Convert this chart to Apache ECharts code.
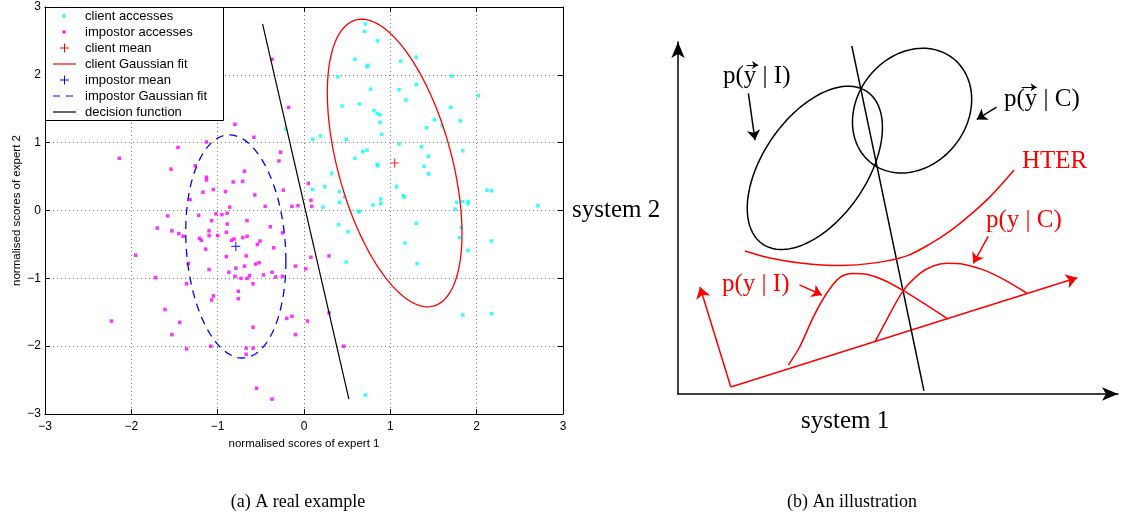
<!DOCTYPE html>
<html>
<head>
<meta charset="utf-8">
<script src="https://cdn.jsdelivr.net/npm/echarts@6/dist/echarts.min.js"></script>
<style>
  html, body { margin: 0; padding: 0; background: #fff; }
  #c { width: 1136px; height: 521px; }
</style>
</head>
<body>
<div id="c"></div>
<script>
// ---------- (a) real example: normalised scores [expert 1, expert 2] ----------
const clientScores = [
  [0.71,2.75],[0.70,2.64],[0.85,2.50],[0.59,2.23],[0.74,2.14],[0.73,2.12],[1.12,2.20],[1.30,2.26],
  [0.39,1.97],[1.71,1.98],[0.77,1.79],[1.10,1.78],[1.30,1.86],[1.18,1.63],[2.02,1.69],[0.44,1.54],
  [0.64,1.57],[0.81,1.47],[0.85,1.43],[0.88,1.41],[1.70,1.52],[0.88,1.30],[1.81,1.32],[1.51,1.34],
  [1.42,1.22],[1.60,1.25],[0.90,1.12],[0.10,1.05],[0.19,1.10],[0.49,1.05],[-0.21,1.20],[1.10,0.98],
  [1.36,0.94],[1.84,0.88],[0.59,0.77],[0.68,0.87],[0.73,0.89],[0.85,0.68],[0.85,0.66],[1.44,0.80],
  [1.39,0.65],[1.44,0.54],[0.32,0.55],[0.10,0.31],[0.24,0.35],[0.41,0.28],[1.07,0.35],[1.15,0.22],
  [1.16,0.20],[0.89,0.17],[2.12,0.30],[2.17,0.29],[1.77,0.12],[1.84,0.13],[1.90,0.13],[1.90,0.10],
  [2.71,0.07],[1.75,0.02],[0.22,0.05],[0.41,0.12],[0.63,-0.01],[0.64,-0.02],[0.80,0.08],[0.89,0.10],
  [0.40,-0.21],[0.51,-0.31],[0.49,-0.76],[1.30,-0.19],[1.17,-0.48],[1.31,-0.78],[1.82,-0.25],[1.80,-0.40],
  [1.90,-0.59],[2.17,-0.45],[1.84,-1.54],[2.17,-1.52],[0.71,-2.72],[0.47,0.20]
];
const impostorScores = [
  [-2.14,0.77],[-1.46,0.93],[-1.13,1.01],[-0.58,1.08],[-1.54,0.61],[-0.27,0.86],[-0.29,0.73],[-1.26,0.66],
  [-0.69,0.58],[-1.13,0.49],[-1.13,0.45],[-0.82,0.42],[-0.71,0.43],[-1.05,0.31],[-1.17,0.27],[-0.91,0.28],
  [-0.24,0.30],[-0.57,0.23],[-1.32,0.16],[-0.86,0.05],[-0.45,0.06],[-0.14,0.06],[-0.07,0.07],[-1.02,-0.05],
  [-0.95,-0.06],[-0.89,-0.04],[-1.58,-0.08],[-1.22,-0.07],[-1.07,-0.15],[-0.66,-0.15],[-0.89,-0.20],[-1.70,-0.26],
  [-0.39,-0.24],[-1.53,-0.30],[-1.10,-0.30],[-0.90,-0.32],[-1.45,-0.34],[-1.40,-0.38],[-1.10,-0.37],[-1.00,-0.37],
  [-1.21,-0.41],[-1.19,-0.44],[-0.81,-0.42],[-0.84,-0.44],[-0.71,-0.40],[-0.66,-0.38],[-0.51,-0.45],[-0.54,-0.50],
  [-0.25,-0.33],[-1.14,-0.57],[-0.35,-0.55],[-1.95,-0.66],[-0.90,-0.68],[-0.67,-0.67],[-1.34,-0.78],[-0.56,-0.79],
  [-0.52,-0.77],[-0.10,-0.82],[-1.10,-0.87],[-0.79,-0.85],[-0.69,-0.82],[-0.87,-0.91],[-0.37,-0.91],[-0.47,-0.95],
  [-0.80,-0.97],[-0.63,-0.96],[-0.73,-1.00],[-0.66,-1.00],[-0.33,-0.98],[-0.25,-0.97],[-1.72,-0.99],
  [-1.36,-1.08],[-0.59,-1.08],[-0.76,-1.19],[-1.05,-1.26],[-1.07,-1.32],[-0.76,-1.30],[-1.61,-1.46],[-2.23,-1.63],
  [-1.44,-1.65],[-1.53,-1.83],[-0.59,-1.72],[-0.20,-1.59],[-0.14,-1.56],[0.04,-1.63],[-0.10,-1.83],[-1.36,-2.04],
  [-1.08,-2.00],[-0.67,-2.03],[-0.59,-2.03],[-0.67,-2.12],[-0.55,-2.62],[-0.37,-2.78],
  [-0.37,2.23],[-0.18,1.52],[-0.80,1.27],[0.05,0.40],[0.08,0.15],[0.09,0.06],
  [0.02,-0.86],[0.08,-0.69],[0.29,-0.67],[0.29,-1.51],[0.46,-2.00]
];
const clientMean = [1.05, 0.70];
const impostorMean = [-0.79, -0.53];
// Gaussian fit contours: half extent along each expert axis and correlation
const clientFit = { sx: 0.78, sy: 2.12, rho: -0.49 };
const impostorFit = { sx: 0.58, sy: 1.645, rho: -0.13 };
const decisionFunction = [[-0.48, 2.75], [0.52, -2.78]];
const scoreTicks = [-3, 3, 1];   // min, max, step

const legendLabels = ['client accesses', 'impostor accesses', 'client mean', 'client Gaussian fit',
  'impostor mean', 'impostor Gaussian fit', 'decision function'];

// ---------- (b) illustration, in "system 1" / "system 2" units ----------
const classI = { c: [3.11, 5.14], a: 2.10, b: 1.18, angle: 55.5 };  // p(y|I) contour
const classC = { c: [5.32, 6.44], a: 1.51, b: 1.25, angle: 52 };    // p(y|C) contour
const illusDecision = [[3.95, 7.91], [5.59, 0.07]];
const hterCurve = [[1.52,3.25],[2.09,3.09],[2.77,2.98],[3.68,2.92],[4.48,2.98],[5.20,3.14],[5.73,3.41],
  [6.18,3.70],[6.64,4.07],[7.09,4.48],[7.64,5.09]];
const projI = [[2.51,0.66],[2.77,1.08],[3.08,1.76],[3.38,2.29],[3.68,2.65],[3.98,2.74],[4.29,2.72],[4.67,2.59],[5.12,2.35],[5.65,2.02],[6.14,1.70]];
const projC = [[4.48,1.19],[4.74,1.68],[5.12,2.35],[5.50,2.74],[5.80,2.91],[6.11,2.97],[6.48,2.95],[6.94,2.82],[7.39,2.61],[7.93,2.29]];
const projOrigin = [1.20, 0.16];
const projAxisEnd = [9.07, 2.64];
const projDensityEnd = [0.50, 2.43];
const blackPointers = [[[1.60,6.83],[1.75,5.77]], [[7.24,6.52],[6.79,6.24]]];
const vectorMarks = [[[1.56,7.48],[1.82,7.48]], [[7.81,6.97],[8.15,6.97]]];
const redPointers = [[[7.05,3.58],[6.71,2.97]], [[2.76,2.48],[3.27,2.25]]];

function fitContour(mean, fit, n) {
  const d = Math.acos(fit.rho), pts = [];
  for (let i = 0; i <= n; i++) {
    const t = 2 * Math.PI * i / n;
    pts.push([mean[0] + fit.sx * Math.cos(t), mean[1] + fit.sy * Math.cos(t + d)]);
  }
  return pts;
}
function tiltedContour(e, n) {
  const th = e.angle * Math.PI / 180, pts = [];
  for (let i = 0; i <= n; i++) {
    const t = 2 * Math.PI * i / n;
    const u = e.a * Math.cos(t), v = e.b * Math.sin(t);
    pts.push([e.c[0] + u * Math.cos(th) - v * Math.sin(th), e.c[1] + u * Math.sin(th) + v * Math.cos(th)]);
  }
  return pts;
}

const SANS = '"Liberation Sans", Arial, Helvetica, sans-serif';
const SERIF = '"Liberation Serif", "Times New Roman", serif';
const minus = v => String(v).replace('-', '\u2212');

const plusPath = 'path://M5,0L5,10M0,5L10,5';

// legend drawn as graphic elements, MATLAB style
const legendItems = [];
const lgX = 45, lgY = 7, rowH = 16;
legendItems.push({ type: 'rect', shape: { x: lgX + 0.5, y: lgY + 0.5, width: 178, height: 113 },
  style: { fill: '#fff', stroke: '#000', lineWidth: 1 }, z: 50 });
legendLabels.forEach((name, i) => {
  const cy = lgY + 9 + i * rowH;
  legendItems.push({ type: 'text', x: 85, y: cy, z: 51,
    style: { text: name, font: '13px ' + SANS, fill: '#000', verticalAlign: 'middle' } });
});
const mk = (i) => lgY + 9 + i * rowH;
legendItems.push({ type: 'rect', z: 51, shape: { x: 62.5, y: mk(0) - 1.5, width: 3, height: 3 }, style: { fill: '#00FFFF' } });
legendItems.push({ type: 'rect', z: 51, shape: { x: 62.5, y: mk(1) - 1.5, width: 3, height: 3 }, style: { fill: '#FF00FF' } });
legendItems.push({ type: 'polyline', z: 51, shape: { points: [[60, mk(2)], [69, mk(2)]] }, style: { stroke: '#FF0000', lineWidth: 1 } });
legendItems.push({ type: 'polyline', z: 51, shape: { points: [[64.5, mk(2) - 4.5], [64.5, mk(2) + 4.5]] }, style: { stroke: '#FF0000', lineWidth: 1 } });
legendItems.push({ type: 'polyline', z: 51, shape: { points: [[53, mk(3)], [76, mk(3)]] }, style: { stroke: '#FF0000', lineWidth: 1.2 } });
legendItems.push({ type: 'polyline', z: 51, shape: { points: [[60, mk(4)], [69, mk(4)]] }, style: { stroke: '#0000FF', lineWidth: 1 } });
legendItems.push({ type: 'polyline', z: 51, shape: { points: [[64.5, mk(4) - 4.5], [64.5, mk(4) + 4.5]] }, style: { stroke: '#0000FF', lineWidth: 1 } });
legendItems.push({ type: 'polyline', z: 51, shape: { points: [[53, mk(5)], [76, mk(5)]] }, style: { stroke: '#0000FF', lineWidth: 1.2, lineDash: [7, 6] } });
legendItems.push({ type: 'polyline', z: 51, shape: { points: [[53, mk(6)], [76, mk(6)]] }, style: { stroke: '#000', lineWidth: 1.2 } });

function txt(text, x, y, size, color, align) {
  return { type: 'text', x: x, y: y, z: 20,
    style: { text: text, font: size + 'px ' + SERIF, fill: color, verticalAlign: 'middle', align: align || 'left' } };
}
const illusTexts = [
  txt('system 2', 572, 210, 25, '#000'),
  txt('system 1', 801, 421, 25, '#000'),
  txt('p(y | I)', 723, 76, 25, '#000'),
  txt('p(y | C)', 1004, 99, 25, '#000'),
  txt('HTER', 1022, 161, 25, '#FF0000'),
  txt('p(y | C)', 986, 220, 25, '#FF0000'),
  txt('p(y | I)', 722, 284, 25, '#FF0000'),
  txt('(a) A real example', 298, 502, 18, '#000', 'center'),
  txt('(b) An illustration', 852, 502, 18, '#000', 'center')
];

const boxAxis = {
  axisLine: { show: true, onZero: false, lineStyle: { color: '#000', width: 1 } },
  axisTick: { show: true, inside: true, length: 5, lineStyle: { color: '#000' } }
};
const gridLine = { show: true, lineStyle: { color: '#7a7a7a', width: 1, type: [1, 3] } };

const hiddenAxis = {
  axisTick: { show: false }, axisLabel: { show: false }, splitLine: { show: false }
};
const arrowAxisLine = { show: true, onZero: false, symbol: ['none', 'arrow'], symbolSize: [10, 16],
  lineStyle: { color: '#000', width: 1.5 } };

const option = {
  animation: false,
  backgroundColor: '#fff',
  grid: [
    { left: 45, top: 7, width: 518, height: 407 },
    { left: 678, top: 42, width: 440, height: 352 }
  ],
  xAxis: [
    Object.assign({ gridIndex: 0, type: 'value', position: 'bottom', min: scoreTicks[0], max: scoreTicks[1], interval: scoreTicks[2],
      axisLabel: { color: '#000', fontSize: 12, fontFamily: SANS, margin: 7, formatter: minus },
      splitLine: gridLine,
      name: 'normalised scores of expert 1', nameLocation: 'middle', nameGap: 21,
      nameTextStyle: { color: '#000', fontSize: 11.5, fontFamily: SANS } }, boxAxis),
    Object.assign({ gridIndex: 0, type: 'value', position: 'top', min: scoreTicks[0], max: scoreTicks[1], interval: scoreTicks[2],
      axisLabel: { show: false }, splitLine: { show: false } }, boxAxis),
    Object.assign({ gridIndex: 1, type: 'value', min: 0, max: 10, axisLine: arrowAxisLine }, hiddenAxis)
  ],
  yAxis: [
    Object.assign({ gridIndex: 0, type: 'value', position: 'left', min: scoreTicks[0], max: scoreTicks[1], interval: scoreTicks[2],
      axisLabel: { color: '#000', fontSize: 12, fontFamily: SANS, margin: 4, formatter: minus },
      splitLine: gridLine,
      name: 'normalised scores of expert 2', nameLocation: 'middle', nameGap: 22,
      nameTextStyle: { color: '#000', fontSize: 11.5, fontFamily: SANS } }, boxAxis),
    Object.assign({ gridIndex: 0, type: 'value', position: 'right', min: scoreTicks[0], max: scoreTicks[1], interval: scoreTicks[2],
      axisLabel: { show: false }, splitLine: { show: false } }, boxAxis),
    Object.assign({ gridIndex: 1, type: 'value', min: 0, max: 8, axisLine: arrowAxisLine }, hiddenAxis)
  ],
  graphic: legendItems.concat(illusTexts),
  series: [
    { name: 'client accesses', type: 'scatter', xAxisIndex: 0, yAxisIndex: 0, data: clientScores,
      symbol: 'rect', symbolSize: 3.5, itemStyle: { color: '#00FFFF' } },
    { name: 'impostor accesses', type: 'scatter', xAxisIndex: 0, yAxisIndex: 0, data: impostorScores,
      symbol: 'rect', symbolSize: 3.5, itemStyle: { color: '#FF00FF' } },
    { name: 'client mean', type: 'scatter', xAxisIndex: 0, yAxisIndex: 0, data: [clientMean],
      symbol: plusPath, symbolSize: 9, itemStyle: { color: 'none', borderColor: '#FF0000', borderWidth: 1.2 } },
    { name: 'client Gaussian fit', type: 'line', xAxisIndex: 0, yAxisIndex: 0, data: fitContour(clientMean, clientFit, 180),
      showSymbol: false, lineStyle: { color: '#FF0000', width: 1.3 } },
    { name: 'impostor mean', type: 'scatter', xAxisIndex: 0, yAxisIndex: 0, data: [impostorMean],
      symbol: plusPath, symbolSize: 9, itemStyle: { color: 'none', borderColor: '#0000FF', borderWidth: 1.2 } },
    { name: 'impostor Gaussian fit', type: 'line', xAxisIndex: 0, yAxisIndex: 0, data: fitContour(impostorMean, impostorFit, 180),
      showSymbol: false, lineStyle: { color: '#0000FF', width: 1.3, type: [8, 6] } },
    { name: 'decision function', type: 'line', xAxisIndex: 0, yAxisIndex: 0, data: decisionFunction,
      showSymbol: false, lineStyle: { color: '#000', width: 1.2 } },

    // illustration
    { type: 'line', xAxisIndex: 2, yAxisIndex: 2, data: tiltedContour(classI, 180), showSymbol: false,
      lineStyle: { color: '#000', width: 1.5 } },
    { type: 'line', xAxisIndex: 2, yAxisIndex: 2, data: tiltedContour(classC, 180), showSymbol: false,
      lineStyle: { color: '#000', width: 1.5 } },
    { type: 'line', xAxisIndex: 2, yAxisIndex: 2, data: illusDecision, showSymbol: false,
      lineStyle: { color: '#000', width: 1.5 } },
    { type: 'line', xAxisIndex: 2, yAxisIndex: 2, data: hterCurve, showSymbol: false, smooth: 0.3,
      lineStyle: { color: '#FF0000', width: 1.5 } },
    { type: 'line', xAxisIndex: 2, yAxisIndex: 2, data: projI, showSymbol: false, smooth: 0.3,
      lineStyle: { color: '#FF0000', width: 1.5 } },
    { type: 'line', xAxisIndex: 2, yAxisIndex: 2, data: projC, showSymbol: false, smooth: 0.3,
      lineStyle: { color: '#FF0000', width: 1.5 } },
    { type: 'lines', coordinateSystem: 'cartesian2d', xAxisIndex: 2, yAxisIndex: 2,
      data: [{ coords: [projOrigin, projAxisEnd] }, { coords: [projOrigin, projDensityEnd] }],
      symbol: ['none', 'arrow'], symbolSize: 11, lineStyle: { color: '#FF0000', width: 1.5, opacity: 1, curveness: 0 } },
    { type: 'lines', coordinateSystem: 'cartesian2d', xAxisIndex: 2, yAxisIndex: 2,
      data: redPointers.map(c => ({ coords: c })),
      symbol: ['none', 'arrow'], symbolSize: 10, lineStyle: { color: '#FF0000', width: 1.5, opacity: 1, curveness: 0 } },
    { type: 'lines', coordinateSystem: 'cartesian2d', xAxisIndex: 2, yAxisIndex: 2,
      data: blackPointers.map(c => ({ coords: c })),
      symbol: ['none', 'arrow'], symbolSize: 10, lineStyle: { color: '#000', width: 1.5, opacity: 1, curveness: 0 } },
    { type: 'lines', coordinateSystem: 'cartesian2d', xAxisIndex: 2, yAxisIndex: 2,
      data: vectorMarks.map(c => ({ coords: c })),
      symbol: ['none', 'arrow'], symbolSize: 6, lineStyle: { color: '#000', width: 1.2, opacity: 1, curveness: 0 } }
  ]
};

const chart = echarts.init(document.getElementById('c'));
chart.setOption(option);
</script>
</body>
</html>
